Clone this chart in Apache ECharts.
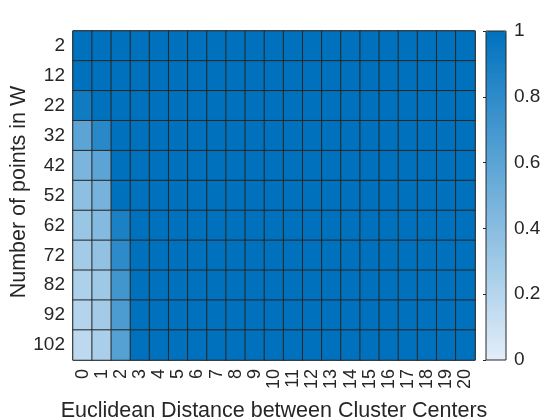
<!DOCTYPE html>
<html><head><meta charset="utf-8">
<script src="https://cdn.jsdelivr.net/npm/echarts@6/dist/echarts.min.js"></script>
<style>html,body{margin:0;padding:0;background:#fff}#c{width:560px;height:420px}</style>
</head><body><div id="c"></div>
<script>
const distances = ['0','1','2','3','4','5','6','7','8','9','10','11','12','13','14','15','16','17','18','19','20'];
const points = ['2','12','22','32','42','52','62','72','82','92','102'];
// values for columns 0,1,2 per row (rows in order of points); all other columns are 1
const col0 = [1.0, 1.0, 0.93, 0.60, 0.46, 0.38, 0.32, 0.28, 0.24, 0.21, 0.17];
const col1 = [1.0, 1.0, 1.0, 0.82, 0.60, 0.48, 0.42, 0.36, 0.31, 0.28, 0.25];
const col2 = [1.0, 1.0, 1.0, 1.0, 1.0, 1.0, 0.88, 0.80, 0.71, 0.66, 0.62];
const restValue = 1.0;
const colorbarTicks = [0, 0.2, 0.4, 0.6, 0.8, 1];
const xTitle = 'Euclidean Distance between Cluster Centers';
const yTitle = 'Number of points in W';

const data = [];
for (let r = 0; r < points.length; r++) {
  for (let c = 0; c < distances.length; c++) {
    let v = restValue;
    if (c === 0) v = col0[r]; else if (c === 1) v = col1[r]; else if (c === 2) v = col2[r];
    data.push([c, r, v]);
  }
}
const font = 'Liberation Sans, Arial, Helvetica, sans-serif';
const ink = '#262626';
const chart = echarts.init(document.getElementById('c'));
chart.setOption({
  backgroundColor: '#fff',
  animation: false,
  grid: [
    {left: 73, top: 31, width: 402, height: 329, show: true, borderColor: ink, borderWidth: 1, backgroundColor: 'transparent', containLabel: false, outerBoundsMode: 'none'},
    {left: 486, top: 31, width: 20, height: 329, show: false, containLabel: false, outerBoundsMode: 'none'}
  ],
  xAxis: [
    {type: 'category', gridIndex: 0, data: distances, position: 'bottom',
     axisLine: {show: false}, axisTick: {show: false}, splitLine: {show: false},
     axisLabel: {rotate: 90, fontSize: 18, color: ink, fontFamily: font, margin: 9, interval: 0},
     name: xTitle, nameLocation: 'middle', nameGap: 40,
     nameTextStyle: {fontSize: 21.5, color: ink, fontFamily: font}},
    {type: 'value', gridIndex: 1, show: false, min: 0, max: 1}
  ],
  yAxis: [
    {type: 'category', gridIndex: 0, data: points, inverse: true,
     axisLine: {show: false}, axisTick: {show: false}, splitLine: {show: false},
     axisLabel: {fontSize: 19, color: ink, fontFamily: font, margin: 8, interval: 0}},
    {type: 'value', gridIndex: 1, min: 0, max: 1, interval: 0.2, position: 'right',
     axisLine: {show: false}, splitLine: {show: false},
     axisTick: {show: true, inside: true, length: 3, lineStyle: {color: ink}},
     axisLabel: {fontSize: 19, color: ink, fontFamily: font, margin: 8,
       formatter: v => colorbarTicks.includes(Math.round(v*10)/10) ? String(Math.round(v*10)/10) : ''}}
  ],
  visualMap: [{
    type: 'continuous', min: 0, max: 1, calculable: false, seriesIndex: 0,
    orient: 'vertical', left: 486, top: 31, itemWidth: 20, itemHeight: 329,
    padding: 0, text: null, showLabel: false,
    inRange: {color: ['#e3eef9', '#0072bd']},
    borderColor: ink, borderWidth: 0
  }],
  series: [
    {type: 'heatmap', xAxisIndex: 0, yAxisIndex: 0, data: data,
     itemStyle: {borderColor: ink, borderWidth: 1}},
    {type: 'line', xAxisIndex: 1, yAxisIndex: 1, data: [], silent: true}
  ],
  graphic: [
    {type: 'rect', shape: {x: 486, y: 31, width: 20, height: 329}, style: {fill: 'none', stroke: ink, lineWidth: 1}, z: 100},
    {type: 'text', x: 19, y: 192, rotation: Math.PI / 2,
     style: {text: yTitle, fill: ink, font: '21.5px ' + font, align: 'center', verticalAlign: 'middle'}, z: 100}
  ]
});
</script></body></html>
